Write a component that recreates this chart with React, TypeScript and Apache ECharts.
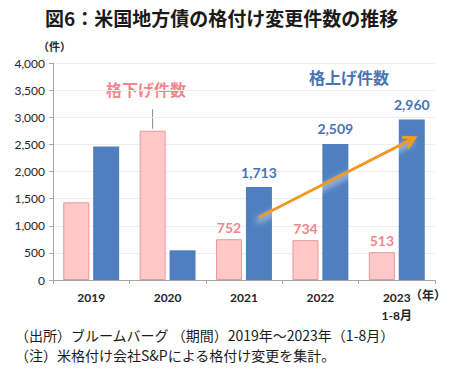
import React, { useEffect, useRef } from "react";
import * as echarts from "echarts";

const categories = ["2019", "2020", "2021", "2022", "2023"];
const downgrades = [1432, 2752, 752, 734, 513];
const upgrades = [2460, 547, 1713, 2509, 2960];
const showDownLabel = [false, false, true, true, true];
const showUpLabel = [false, false, true, true, true];
const yTicks = [0, 500, 1000, 1500, 2000, 2500, 3000, 3500, 4000];

const PINK_TEXT = "#f2878b";
const BLUE_TEXT = "#4a73b3";
const NUM_FONT = "Lato, 'Noto Sans CJK JP', sans-serif";
const JP_FONT = "'Noto Sans CJK JP', sans-serif";

export default function App() {
  const ref = useRef<HTMLDivElement>(null);
  useEffect(() => {
    document.body.style.margin = "0";
    if (!ref.current) return;
    const chart = echarts.init(ref.current, null, { renderer: "svg" });
    const option: any = {
      animation: false,
      backgroundColor: "#ffffff",
      grid: { left: 53, right: 15, top: 63, bottom: 92, containLabel: false },
      xAxis: {
        type: "category",
        data: categories,
        axisLine: { lineStyle: { color: "#a6a6a6" } },
        axisTick: { show: true, length: 4, lineStyle: { color: "#a6a6a6" } },
        axisLabel: {
          color: "#262626",
          fontFamily: NUM_FONT,
          fontWeight: "bold",
          fontSize: 12,
          margin: 8,
          lineHeight: 18,
          formatter: (v: string) => (v === "2023" ? "2023\n1-8月" : v),
        },
      },
      yAxis: {
        type: "value",
        min: yTicks[0],
        max: yTicks[yTicks.length - 1],
        interval: 500,
        axisLine: { show: true, lineStyle: { color: "#a6a6a6" } },
        axisTick: { show: true, length: 4, lineStyle: { color: "#a6a6a6" } },
        splitLine: { lineStyle: { color: "#eeeeee" } },
        axisLabel: {
          color: "#262626",
          fontFamily: NUM_FONT,
          fontSize: 12,
          margin: 8,
          formatter: (v: number) => v.toLocaleString("en-US"),
        },
      },
      series: [
        {
          type: "bar",
          name: "格下げ件数",
          data: downgrades.map((v, i) => ({
            value: v,
            label: { show: showDownLabel[i] },
          })),
          barWidth: 26,
          barGap: "15%",
          itemStyle: { color: "#ffc9ca", borderColor: "#f0959a", borderWidth: 1 },
          label: {
            show: false,
            position: "top",
            distance: 5,
            color: PINK_TEXT,
            fontFamily: NUM_FONT,
            fontWeight: "bold",
            fontSize: 14,
            formatter: (p: any) => p.value.toLocaleString("en-US"),
          },
        },
        {
          type: "bar",
          name: "格上げ件数",
          data: upgrades.map((v, i) => ({
            value: v,
            label: { show: showUpLabel[i] },
          })),
          barWidth: 26,
          barGap: "15%",
          itemStyle: { color: "#4f7fbf" },
          label: {
            show: false,
            position: "top",
            distance: 8,
            color: BLUE_TEXT,
            fontFamily: NUM_FONT,
            fontWeight: "bold",
            fontSize: 14,
            formatter: (p: any) => p.value.toLocaleString("en-US"),
          },
        },
      ],
      graphic: [
        {
          type: "text",
          x: 45,
          y: 8,
          style: {
            text: "図6：米国地方債の格付け変更件数の推移",
            font: `bold 19px ${JP_FONT}`,
            fill: "#1a1a1a",
          },
        },
        {
          type: "text",
          x: 38,
          y: 40,
          style: { text: "（件）", font: `bold 11px ${JP_FONT}`, fill: "#262626" },
        },
        {
          type: "text",
          x: 410,
          y: 288,
          style: { text: "（年）", font: `bold 12px ${JP_FONT}`, fill: "#262626" },
        },
        {
          type: "text",
          x: 106,
          y: 81,
          style: { text: "格下げ件数", font: `bold 16px ${JP_FONT}`, fill: PINK_TEXT },
        },
        {
          type: "text",
          x: 309,
          y: 69,
          style: { text: "格上げ件数", font: `bold 16px ${JP_FONT}`, fill: BLUE_TEXT },
        },
        {
          type: "text",
          x: 15,
          y: 328,
          style: {
            text: "（出所）ブルームバーグ （期間）2019年～2023年（1-8月）",
            font: `14px ${JP_FONT}`,
            fill: "#1a1a1a",
          },
        },
        {
          type: "text",
          x: 15,
          y: 348,
          style: {
            text: "（注）米格付け会社S&Pによる格付け変更を集計。",
            font: `14px ${JP_FONT}`,
            fill: "#1a1a1a",
          },
        },
      ],
    };
    chart.setOption(option);

    const barOffset = 15;
    const pTop = chart.convertToPixel({ gridIndex: 0 }, ["2020", 3150]) as number[];
    const pBar = chart.convertToPixel({ gridIndex: 0 }, ["2020", downgrades[1]]) as number[];
    const a0 = chart.convertToPixel({ gridIndex: 0 }, ["2021", 1156]) as number[];
    const a1 = chart.convertToPixel({ gridIndex: 0 }, ["2023", 2623]) as number[];
    const sx = a0[0] + barOffset, sy = a0[1];
    const ex = a1[0] + barOffset + 3, ey = a1[1];
    const ang = Math.atan2(ey - sy, ex - sx);
    const hl = 13, ha = 0.5;
    const h1 = [ex - hl * Math.cos(ang - ha), ey - hl * Math.sin(ang - ha)];
    const h2 = [ex - hl * Math.cos(ang + ha), ey - hl * Math.sin(ang + ha)];
    chart.setOption({
      graphic: [
        ...option.graphic,
        {
          type: "line",
          shape: { x1: pTop[0] - barOffset, y1: pTop[1], x2: pBar[0] - barOffset, y2: pBar[1] - 2 },
          style: { stroke: "#8c8c8c", lineWidth: 1 },
        },
        {
          type: "line",
          shape: { x1: sx, y1: sy, x2: ex, y2: ey },
          style: {
            stroke: "#f39a1f",
            lineWidth: 3,
            shadowBlur: 6,
            shadowColor: "rgba(255,255,255,0.9)",
            shadowOffsetX: -2,
            shadowOffsetY: 4,
          },
          z: 100,
        },
        {
          type: "polyline",
          shape: { points: [h1, [ex, ey], h2] },
          style: { stroke: "#f39a1f", lineWidth: 3, fill: "none", lineJoin: "miter" },
          z: 100,
        },
      ],
    });
    return () => chart.dispose();
  }, []);
  return <div ref={ref} style={{ width: 450, height: 372 }} />;
}
